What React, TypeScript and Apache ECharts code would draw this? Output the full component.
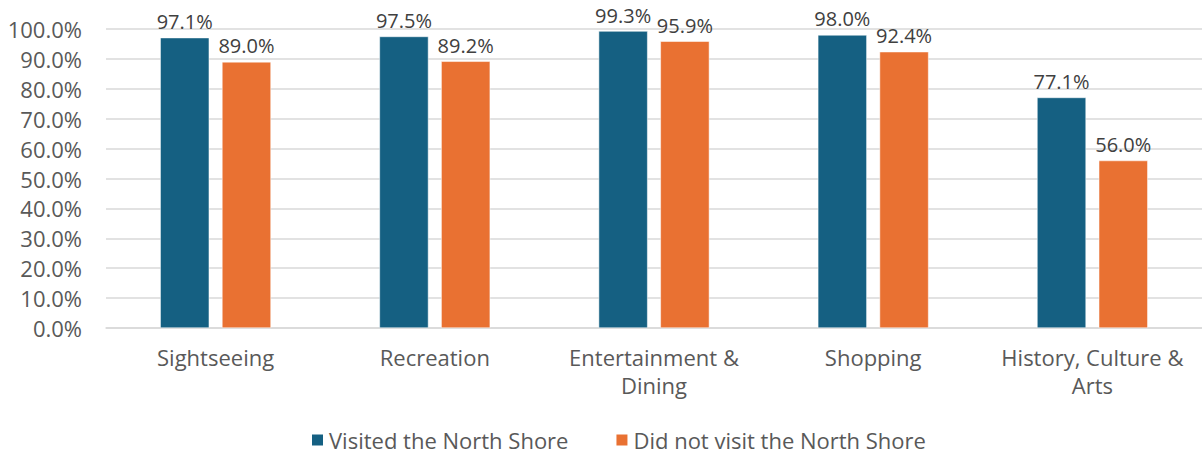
import React, { useEffect, useRef } from "react";
import * as echarts from "echarts";

const categories = [
  "Sightseeing",
  "Recreation",
  "Entertainment &\nDining",
  "Shopping",
  "History, Culture &\nArts",
];
const visited = [97.1, 97.5, 99.3, 98.0, 77.1];
const notVisited = [89.0, 89.2, 95.9, 92.4, 56.0];
const seriesNames = ["Visited the North Shore", "Did not visit the North Shore"];

const FONT = "'Open Sans', 'Liberation Sans', sans-serif";
const TEXT = "#595959";

export default function App() {
  const ref = useRef<HTMLDivElement>(null);
  useEffect(() => {
    if (!ref.current) return;
    const chart = echarts.init(ref.current, undefined, { renderer: "svg" });
    const dataLabel = {
      show: true,
      position: "top",
      distance: 6,
      fontSize: 20,
      color: "#404040",
      fontFamily: FONT,
      formatter: (p: any) => p.value.toFixed(1) + "%",
    };
    chart.setOption({
      animation: false,
      textStyle: { fontFamily: FONT },
      grid: { left: 106, right: -3, top: 29, bottom: 126, containLabel: false },
      legend: {
        top: 428,
        left: 310,
        padding: 0,
        itemWidth: 13,
        itemHeight: 13,
        itemGap: 46,
        icon: "rect",
        textStyle: {
          fontSize: 22,
          lineHeight: 24,
          color: TEXT,
          fontFamily: FONT,
        },
        data: seriesNames,
      },
      xAxis: {
        type: "category",
        data: categories,
        axisLine: { show: true, lineStyle: { color: "#d9d9d9", width: 1.5 } },
        axisTick: { show: false },
        axisLabel: {
          interval: 0,
          fontSize: 22,
          color: TEXT,
          margin: 15,
          lineHeight: 28,
          fontFamily: FONT,
        },
      },
      yAxis: {
        type: "value",
        min: 0,
        max: 100,
        interval: 10,
        axisLine: { show: false },
        axisTick: { show: false },
        splitLine: { lineStyle: { color: "#d9d9d9", width: 1.5 } },
        axisLabel: {
          fontSize: 22,
          color: TEXT,
          margin: 24,
          fontFamily: FONT,
          formatter: (v: number) => v.toFixed(1) + "%",
        },
      },
      series: [
        {
          name: seriesNames[0],
          type: "bar",
          data: visited,
          barWidth: 49,
          barGap: "26%",
          itemStyle: { color: "#156082", borderColor: "#ffffff", borderWidth: 0.5 },
          label: dataLabel,
        },
        {
          name: seriesNames[1],
          type: "bar",
          data: notVisited,
          barWidth: 49,
          itemStyle: { color: "#E97132", borderColor: "#ffffff", borderWidth: 0.5 },
          label: dataLabel,
        },
      ],
    });
    return () => chart.dispose();
  }, []);
  return (
    <div
      ref={ref}
      style={{ position: "absolute", left: 0, top: 0, width: 1202, height: 454, background: "#fff" }}
    />
  );
}
